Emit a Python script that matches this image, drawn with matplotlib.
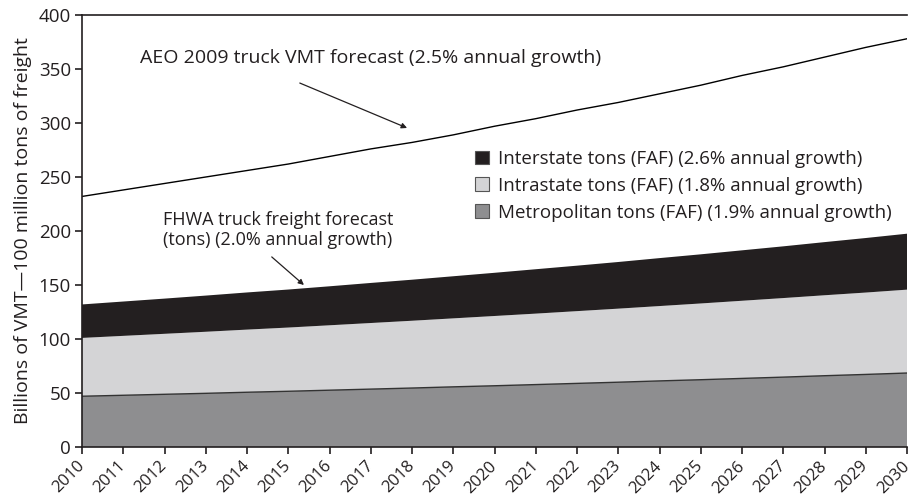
import matplotlib
matplotlib.use("Agg")
import matplotlib.pyplot as plt
from matplotlib.patches import Patch

years = list(range(2010, 2031))
metropolitan = [47.0, 47.9, 48.8, 49.7, 50.7, 51.6, 52.6, 53.6, 54.6, 55.7, 56.7,
                57.8, 58.9, 60.0, 61.2, 62.3, 63.5, 64.7, 66.0, 67.2, 68.5]
intrastate = [54.0, 55.0, 56.0, 57.0, 58.0, 59.0, 60.1, 61.2, 62.3, 63.4, 64.6,
              65.7, 66.9, 68.1, 69.3, 70.6, 71.9, 73.2, 74.5, 75.8, 77.2]
interstate = [31.0, 31.8, 32.6, 33.5, 34.4, 35.2, 36.1, 37.1, 38.0, 39.0, 40.0,
              41.1, 42.1, 43.2, 44.4, 45.5, 46.7, 47.9, 49.2, 50.5, 51.8]
aeo_vmt = [232, 238, 244, 250, 256, 262, 269, 276, 282, 289, 297,
           304, 312, 319, 327, 335, 344, 352, 361, 370, 378]

labels = ["Interstate tons (FAF) (2.6% annual growth)",
          "Intrastate tons (FAF) (1.8% annual growth)",
          "Metropolitan tons (FAF) (1.9% annual growth)"]

plt.rcParams['font.family'] = ['Open Sans', 'DejaVu Sans']
txtc = '#231f20'

fig = plt.figure(figsize=(9.16, 5.03), dpi=100)
ax = fig.add_axes([82/916, 1-447/503, (907-82)/916, (447-15)/503])

c_metro = '#8e8e90'
c_intra = '#d4d4d6'
c_inter = '#231f20'

ax.stackplot(years, metropolitan, intrastate, interstate,
             colors=[c_metro, c_intra, c_inter], linewidth=0)
ax.plot(years, metropolitan, color='#333333', lw=1.0)
ax.plot(years, aeo_vmt, color='black', lw=1.0)

ax.set_xlim(2010, 2030)
ax.set_ylim(0, 400)
ax.set_yticks(range(0, 401, 50))
ax.set_xticks(years)
ax.set_xticklabels([str(y) for y in years], rotation=45, ha='right', va='center',
                   rotation_mode='anchor', fontsize=12, color=txtc)
ax.tick_params(axis='y', labelsize=13.5, labelcolor=txtc, direction='out', length=5,
               width=1.2, color=txtc, pad=3)
ax.tick_params(axis='x', direction='out', length=5, width=1.2, color=txtc, pad=7)
for s in ['left', 'top', 'bottom']:
    ax.spines[s].set_linewidth(1.2)
    ax.spines[s].set_color(txtc)
ax.spines['right'].set_visible(False)
ax.set_ylabel("Billions of VMT—100 million tons of freight", fontsize=14,
              labelpad=5, color=txtc)

ax.text(2011.4, 360, "AEO 2009 truck VMT forecast (2.5% annual growth)",
        fontsize=14, va='center', ha='left', color=txtc)
ax.annotate("", xy=(2017.88, 295.4), xytext=(2015.28, 337),
            arrowprops=dict(arrowstyle='-|>', color=txtc, lw=0.9,
                            mutation_scale=8, shrinkA=0, shrinkB=0))
ax.text(2011.96, 201, "FHWA truck freight forecast\n(tons) (2.0% annual growth)",
        fontsize=13, va='center', ha='left', color=txtc, linespacing=1.15)
ax.annotate("", xy=(2015.38, 150), xytext=(2014.6, 176),
            arrowprops=dict(arrowstyle='-|>', color=txtc, lw=0.9,
                            mutation_scale=8, shrinkA=0, shrinkB=0))

handles = [Patch(facecolor=c_inter, edgecolor='#555555', lw=0.8),
           Patch(facecolor=c_intra, edgecolor='#555555', lw=0.8),
           Patch(facecolor=c_metro, edgecolor='#555555', lw=0.8)]
leg = ax.legend(handles, labels, loc='upper left',
                bbox_to_anchor=((475-82)/825, (447-150)/432),
                frameon=False, fontsize=13.5, handlelength=0.75, handleheight=0.75,
                handletextpad=0.45, borderpad=0, borderaxespad=0, labelspacing=0.47)
for t in leg.get_texts():
    t.set_color(txtc)

fig.savefig("out.png", dpi=100)
